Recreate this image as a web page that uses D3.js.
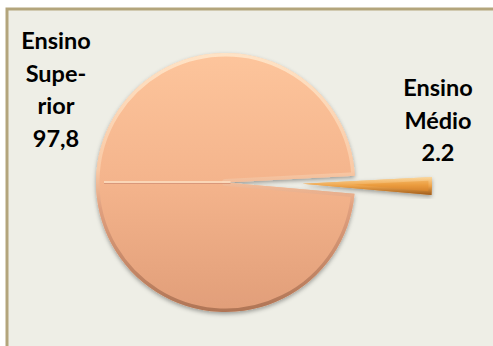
<!DOCTYPE html>
<html lang="pt">
<head>
<meta charset="utf-8">
<title>Ensino</title>
<script src="https://d3js.org/d3.v7.min.js"></script>
<style>
  html, body { margin: 0; padding: 0; background: #ffffff; }
  svg { display: block; }
  .lbl { font-family: Lato, "Open Sans", sans-serif; font-weight: bold; font-size: 23.5px; fill: #000; }
</style>
</head>
<body>
<div id="chart"></div>
<script>
// data
const categories = ["Ensino Superior", "Ensino Médio"];
const values = [97.8, 2.2];
const labelLines = [["Ensino", "Supe-", "rior", "97,8"], ["Ensino", "Médio", "2.2"]];

const width = 493, height = 346;
const cx = 225.5, cy = 182.5, radius = 129.5;
const explode = [0, 77];

const svg = d3.select("#chart").append("svg")
  .attr("width", width)
  .attr("height", height);

const defs = svg.append("defs");

// background frame
svg.append("rect")
  .attr("x", 7).attr("y", 9)
  .attr("width", width + 20).attr("height", height + 20)
  .attr("fill", "#eeeee6")
  .attr("stroke", "#b3a57c")
  .attr("stroke-width", 3);

// gradients
function linGrad(id, stops) {
  const g = defs.append("linearGradient").attr("id", id)
    .attr("x1", 0).attr("y1", 0).attr("x2", 0).attr("y2", 1);
  stops.forEach(s => g.append("stop").attr("offset", s[0]).attr("stop-color", s[1]));
}
linGrad("fillBig", [[0, "#fdc59c"], [0.5, "#f4b48c"], [1, "#e19e79"]]);
linGrad("rimBig", [[0, "#fff0d8"], [0.45, "#fbd2b0"], [0.6, "#d9997a"], [1, "#9a6346"]]);
linGrad("fillSmall", [[0, "#f7c074"], [0.45, "#eb9c3e"], [1, "#c77422"]]);
linGrad("rimSmall", [[0, "#fde2b0"], [0.5, "#f0a850"], [1, "#8e5218"]]);

const shadow = defs.append("filter").attr("id", "shadow")
  .attr("x", "-20%").attr("y", "-20%").attr("width", "140%").attr("height", "140%");
shadow.append("feDropShadow")
  .attr("dx", 0).attr("dy", 2).attr("stdDeviation", 2)
  .attr("flood-color", "#000").attr("flood-opacity", 0.35);

// pie layout: small slice centred just below 3 o'clock
const total = d3.sum(values);
const smallSpan = values[1] / total * 2 * Math.PI;
const start = Math.PI / 2 + 0.017 - smallSpan / 2 - (values[0] / total) * 2 * Math.PI;

const pie = d3.pie().sort(null).startAngle(start).endAngle(start + 2 * Math.PI);
const arcs = pie(values);
const arc = d3.arc().innerRadius(0).outerRadius(radius);

const fills = ["url(#fillBig)", "url(#fillSmall)"];
const rims = ["url(#rimBig)", "url(#rimSmall)"];

const slices = svg.selectAll("g.slice")
  .data(arcs)
  .enter()
  .append("g")
  .attr("class", "slice")
  .attr("transform", (d, i) => {
    const mid = (d.startAngle + d.endAngle) / 2;
    const dx = Math.sin(mid) * explode[i];
    const dy = -Math.cos(mid) * explode[i];
    return "translate(" + (cx + dx) + "," + (cy + dy) + ")";
  });

slices.append("clipPath")
  .attr("id", (d, i) => "clip" + i)
  .append("path")
  .attr("d", arc);

slices.append("path")
  .attr("d", arc)
  .attr("fill", (d, i) => fills[i])
  .attr("filter", "url(#shadow)");

// bevel rim
slices.append("path")
  .attr("d", arc)
  .attr("fill", "none")
  .attr("stroke", (d, i) => rims[i])
  .attr("stroke-width", 7)
  .attr("stroke-linejoin", "round")
  .attr("opacity", 0.7)
  .attr("clip-path", (d, i) => "url(#clip" + i + ")");

// seam of the big slice
svg.append("line")
  .attr("x1", cx - radius + 8).attr("y1", cy - 0.5)
  .attr("x2", cx + 5).attr("y2", cy - 0.5)
  .attr("stroke", "#fde2c6").attr("stroke-width", 1.5);
svg.append("line")
  .attr("x1", cx - radius + 8).attr("y1", cy + 1)
  .attr("x2", cx + 5).attr("y2", cy + 1)
  .attr("stroke", "#d9987a").attr("stroke-width", 1);

// labels
const labelPos = [[56, 49], [438, 96]];
const lineGap = 32.5;
labelLines.forEach((lines, i) => {
  const t = svg.append("text")
    .attr("class", "lbl")
    .attr("text-anchor", "middle")
    .attr("x", labelPos[i][0])
    .attr("y", labelPos[i][1]);
  lines.forEach((s, j) => {
    t.append("tspan")
      .attr("x", labelPos[i][0])
      .attr("y", labelPos[i][1] + j * lineGap)
      .text(s);
  });
});
</script>
</body>
</html>
